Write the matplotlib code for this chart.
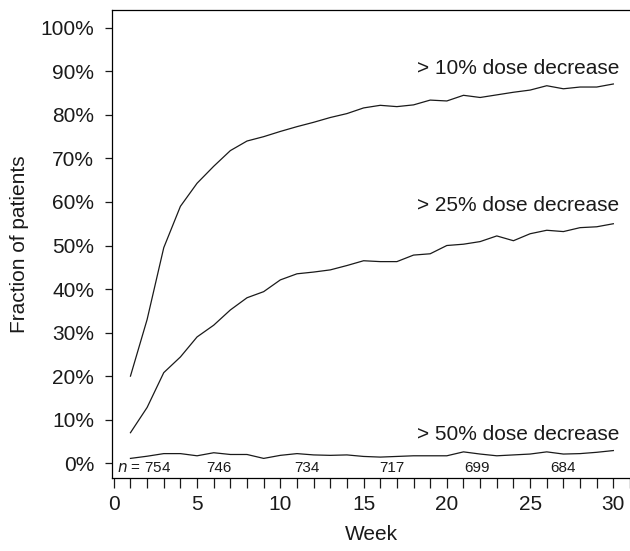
import numpy as np
import matplotlib
matplotlib.use("Agg")
import matplotlib.pyplot as plt
from matplotlib.ticker import MultipleLocator, FuncFormatter

plt.rcParams["font.family"] = ["Liberation Sans", "DejaVu Sans"]

weeks = list(range(1, 31))
dec10 = [20.0, 33.0, 49.5, 59.0, 64.3, 68.2, 71.8, 74.0, 75.0, 76.2,
         77.3, 78.3, 79.4, 80.3, 81.6, 82.2, 81.9, 82.3, 83.4, 83.2,
         84.5, 84.0, 84.6, 85.2, 85.7, 86.7, 86.0, 86.4, 86.4, 87.1]
dec25 = [7.0, 12.8, 20.8, 24.4, 29.0, 31.7, 35.2, 38.0, 39.4, 42.1,
         43.5, 43.9, 44.4, 45.4, 46.5, 46.3, 46.3, 47.8, 48.1, 50.0,
         50.3, 50.9, 52.2, 51.1, 52.7, 53.5, 53.2, 54.1, 54.3, 55.0]
dec50 = [1.1, 1.6, 2.2, 2.2, 1.7, 2.4, 2.0, 2.0, 1.1, 1.8,
         2.2, 1.9, 1.8, 1.9, 1.55, 1.4, 1.55, 1.7, 1.7, 1.7,
         2.6, 2.1, 1.7, 1.9, 2.1, 2.6, 2.1, 2.2, 2.5, 2.9]
labels = ["> 10% dose decrease", "> 25% dose decrease", "> 50% dose decrease"]
label_y = [90.6, 59.1, 6.7]
n_weeks = [6.3, 11.6, 16.7, 21.8, 27.0]
n_vals = ["746", "734", "717", "699", "684"]

fig = plt.figure(figsize=(6.3, 5.51), dpi=100)
ax = fig.add_axes([0.178, 0.1325, 0.822, 0.8494])
col = "#1a1a1a"
for s in (dec10, dec25, dec50):
    ax.plot(weeks, s, color=col, lw=0.9)
for t, y in zip(labels, label_y):
    ax.text(30.35, y, t, ha="right", va="center", fontsize=15, color=col)

ax.text(0.2, -1.0, "$\\it{n}$ = 754", ha="left", va="center", fontsize=11, color=col)
for x, t in zip(n_weeks, n_vals):
    ax.text(x, -1.0, t, ha="center", va="center", fontsize=11, color=col)

ax.set_xlim(-0.1, 31)
ax.set_ylim(-3.4, 104.1)
ax.spines["right"].set_visible(False)
for s in ax.spines.values():
    s.set_linewidth(0.9)
ax.xaxis.set_major_locator(MultipleLocator(5))
ax.xaxis.set_minor_locator(MultipleLocator(1))
ax.set_yticks(np.arange(0, 101, 10))
ax.yaxis.set_major_formatter(FuncFormatter(lambda v, p: f"{v:.0f}%"))
ax.tick_params(axis="x", which="both", direction="out", length=7.5, width=0.9, pad=5, labelsize=15, colors=col)
ax.tick_params(axis="y", direction="out", length=5, width=0.9, pad=8, labelsize=15, colors=col)
ax.set_xlabel("Week", fontsize=15, color=col, labelpad=8)
ax.set_ylabel("Fraction of patients", fontsize=15, color=col, labelpad=8)
fig.savefig("out.png", dpi=100)
